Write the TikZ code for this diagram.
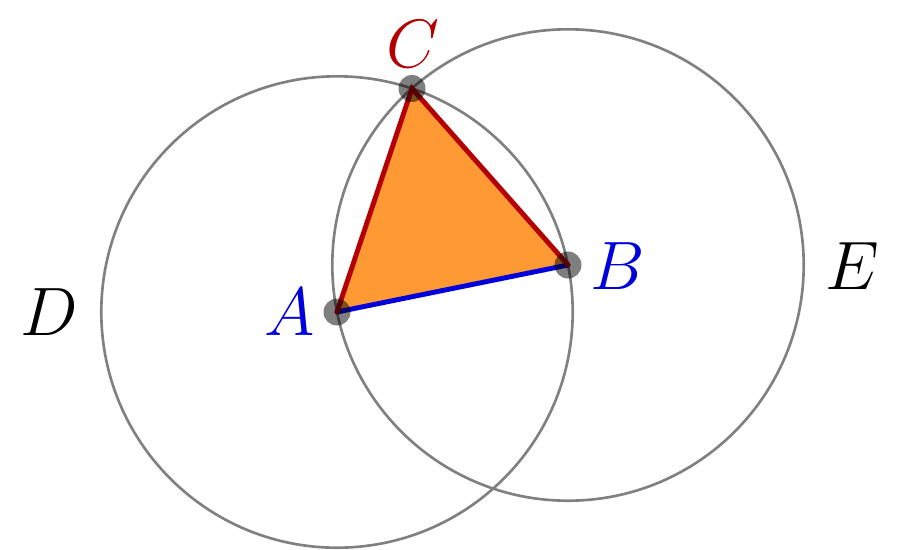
\documentclass[tikz,border=0pt]{standalone}
\usepackage{fix-cm}
\definecolor{circgray}{HTML}{808080}
\definecolor{triorange}{HTML}{FF9933}
\definecolor{edgered}{HTML}{B40000}
\definecolor{edgeblue}{HTML}{0000DD}
\tikzset{
  construct/.style={draw=circgray, line width=1.5pt},
  edge/.style={line width=2.8pt, line cap=round},
  pt/.style={circle, fill=black, fill opacity=0.5, minimum size=27*0.02cm, inner sep=0pt},
  lbl/.style={font=\fontsize{39pt}{40pt}\selectfont, inner sep=0pt}
}
\begin{document}
\begin{tikzpicture}[x=0.02cm,y=-0.02cm]
\useasboundingbox (0,0) rectangle (900,549);
\coordinate (A) at (337,312);
\coordinate (B) at (568,265);
\coordinate (C) at (412,88.5);
\draw[construct] (A) circle[radius=235.7];
\draw[construct] (B) circle[radius=235.7];
\fill[triorange] (A) -- (B) -- (C) -- cycle;
\draw[edge, edgeblue] (A) -- (B);
\draw[edge, edgered] (B) -- (C) -- (A);
\node[pt] (pA) at (A) {};
\node[pt] (pB) at (B) {};
\node[pt] (pC) at (C) {};
\node[lbl, text=edgeblue] (lA) at (290,312) {$A$};
\node[lbl, text=edgeblue] (lB) at (618,266) {$B$};
\node[lbl, text=edgered] (lC) at (413,44) {$C$};
\node[lbl] (lD) at (49,312) {$D$};
\node[lbl] (lE) at (852,266) {$E$};
\end{tikzpicture}
\end{document}
